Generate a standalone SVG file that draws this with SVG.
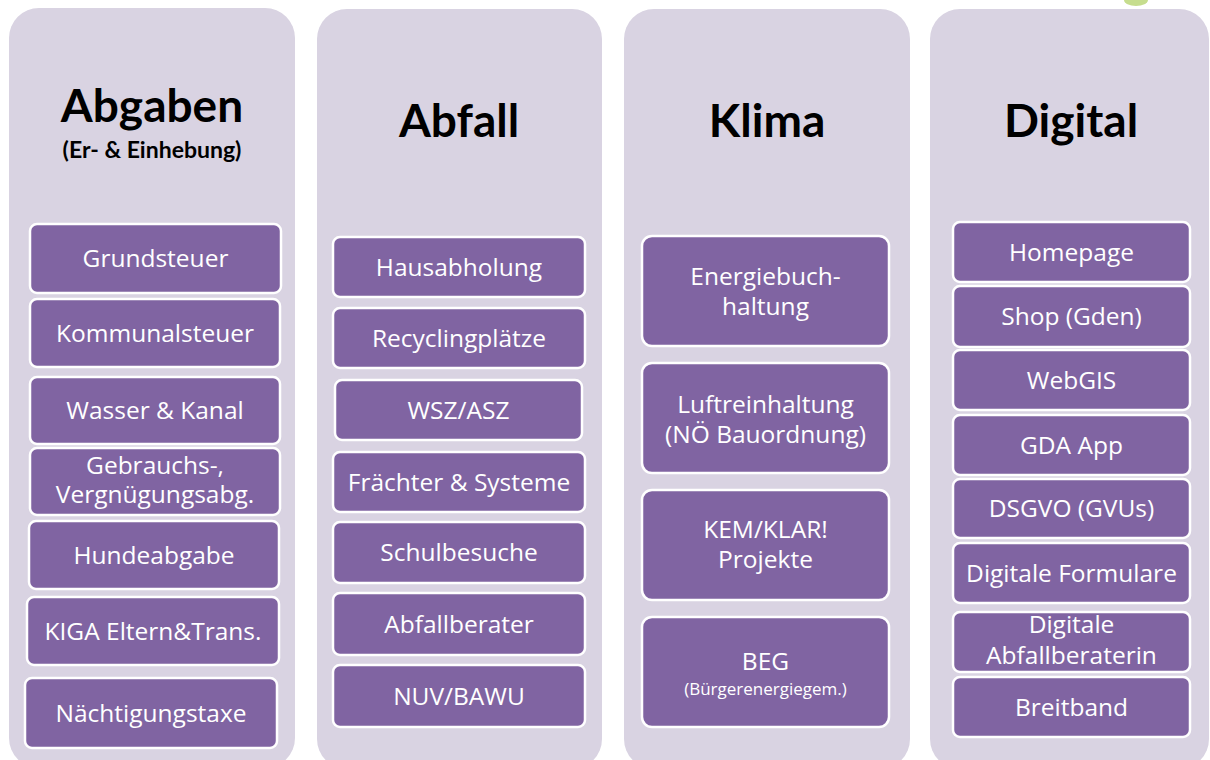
<svg xmlns="http://www.w3.org/2000/svg" width="1210" height="760" viewBox="0 0 1210 760">
<style>
.panel{fill:#d9d3e2;}
.box{fill:#8064a2;stroke:#ffffff;stroke-width:2.5;}
.title{font-family:Lato,"Open Sans",sans-serif;font-weight:bold;font-size:46px;fill:#000;text-anchor:middle;}
.sub{font-family:Lato,"Open Sans",sans-serif;font-weight:bold;font-size:23px;fill:#000;text-anchor:middle;}
.t{font-family:"Open Sans","Noto Sans",sans-serif;font-size:24.5px;fill:#ffffff;text-anchor:middle;}
.ts{font-family:"Open Sans","Noto Sans",sans-serif;font-size:17px;fill:#ffffff;text-anchor:middle;}
</style>
<rect width="1210" height="760" fill="#ffffff"/>
<ellipse cx="1136" cy="0" rx="12" ry="6" fill="#c6dd8e"/>

<g id="col-abgaben">
<rect class="panel" x="9" y="8" width="286" height="760" rx="30"/>
<text class="title" x="152" y="122">Abgaben</text>
<text class="sub" x="152" y="158">(Er- &amp; Einhebung)</text>
</g>
<g id="col-abfall">
<rect class="panel" x="317" y="9" width="285" height="760" rx="30"/>
<text class="title" x="459" y="137">Abfall</text>
</g>
<g id="col-klima">
<rect class="panel" x="624" y="9" width="286" height="760" rx="30"/>
<text class="title" x="767" y="137">Klima</text>
</g>
<g id="col-digital">
<rect class="panel" x="930" y="9" width="279" height="760" rx="30"/>
<text class="title" x="1071" y="137">Digital</text>
</g>

<g id="n-grundsteuer"><rect class="box" x="30" y="224" width="251" height="69" rx="7"/><text class="t" x="155.5" y="267">Grundsteuer</text></g>
<g id="n-kommunalsteuer"><rect class="box" x="30" y="299" width="250" height="68" rx="7"/><text class="t" x="155" y="341.5">Kommunalsteuer</text></g>
<g id="n-wasser"><rect class="box" x="30" y="377" width="250" height="67" rx="7"/><text class="t" x="155" y="419">Wasser &amp; Kanal</text></g>
<g id="n-gebrauchs"><rect class="box" x="30" y="448" width="250" height="67" rx="7"/><text class="t" x="155" y="474">Gebrauchs-,</text><text class="t" x="155" y="503">Vergnügungsabg.</text></g>
<g id="n-hundeabgabe"><rect class="box" x="29" y="521" width="250" height="68" rx="7"/><text class="t" x="154" y="563.5">Hundeabgabe</text></g>
<g id="n-kiga"><rect class="box" x="27" y="597" width="252" height="68" rx="7"/><text class="t" x="153" y="639.5">KIGA Eltern&amp;Trans.</text></g>
<g id="n-naechtigung"><rect class="box" x="25" y="678" width="252" height="70" rx="7"/><text class="t" x="151" y="721.5">Nächtigungstaxe</text></g>

<g id="n-hausabholung"><rect class="box" x="333" y="237" width="252" height="60" rx="7"/><text class="t" x="459" y="275.5">Hausabholung</text></g>
<g id="n-recycling"><rect class="box" x="333" y="308" width="252" height="60" rx="7"/><text class="t" x="459" y="346.5">Recyclingplätze</text></g>
<g id="n-wsz"><rect class="box" x="335" y="380" width="247" height="60" rx="7"/><text class="t" x="458.5" y="418.5">WSZ/ASZ</text></g>
<g id="n-fraechter"><rect class="box" x="333" y="452" width="252" height="60" rx="7"/><text class="t" x="459" y="490.5">Frächter &amp; Systeme</text></g>
<g id="n-schulbesuche"><rect class="box" x="333" y="522" width="252" height="61" rx="7"/><text class="t" x="459" y="561">Schulbesuche</text></g>
<g id="n-abfallberater"><rect class="box" x="333" y="593" width="252" height="62" rx="7"/><text class="t" x="459" y="632.5">Abfallberater</text></g>
<g id="n-nuv"><rect class="box" x="333" y="665" width="252" height="62" rx="7"/><text class="t" x="459" y="704.5">NUV/BAWU</text></g>

<g id="n-energie"><rect class="box" x="642" y="236" width="247" height="110" rx="10"/><text class="t" x="765.5" y="285">Energiebuch-</text><text class="t" x="765.5" y="315">haltung</text></g>
<g id="n-luft"><rect class="box" x="642" y="363" width="247" height="110" rx="10"/><text class="t" x="765.5" y="413">Luftreinhaltung</text><text class="t" x="765.5" y="443">(NÖ Bauordnung)</text></g>
<g id="n-kem"><rect class="box" x="642" y="490" width="247" height="110" rx="10"/><text class="t" x="765.5" y="538">KEM/KLAR!</text><text class="t" x="765.5" y="568">Projekte</text></g>
<g id="n-beg"><rect class="box" x="642" y="617" width="247" height="110" rx="10"/><text class="t" x="765.5" y="670">BEG</text><text class="ts" x="765.5" y="695">(Bürgerenergiegem.)</text></g>

<g id="n-homepage"><rect class="box" x="953" y="222" width="237" height="60" rx="7"/><text class="t" x="1071.5" y="260.5">Homepage</text></g>
<g id="n-shop"><rect class="box" x="953" y="286" width="237" height="61" rx="7"/><text class="t" x="1071.5" y="325">Shop (Gden)</text></g>
<g id="n-webgis"><rect class="box" x="953" y="350" width="237" height="60" rx="7"/><text class="t" x="1071.5" y="388.5">WebGIS</text></g>
<g id="n-gda"><rect class="box" x="953" y="415" width="237" height="60" rx="7"/><text class="t" x="1071.5" y="453.5">GDA App</text></g>
<g id="n-dsgvo"><rect class="box" x="953" y="479" width="237" height="59" rx="7"/><text class="t" x="1071.5" y="517">DSGVO (GVUs)</text></g>
<g id="n-formulare"><rect class="box" x="953" y="543" width="237" height="60" rx="7"/><text class="t" x="1071.5" y="581.5">Digitale Formulare</text></g>
<g id="n-abfallberaterin"><rect class="box" x="953" y="612" width="237" height="60" rx="7"/><text class="t" x="1071.5" y="633">Digitale</text><text class="t" x="1071.5" y="664">Abfallberaterin</text></g>
<g id="n-breitband"><rect class="box" x="953" y="677" width="237" height="60" rx="7"/><text class="t" x="1071.5" y="715.5">Breitband</text></g>
</svg>
